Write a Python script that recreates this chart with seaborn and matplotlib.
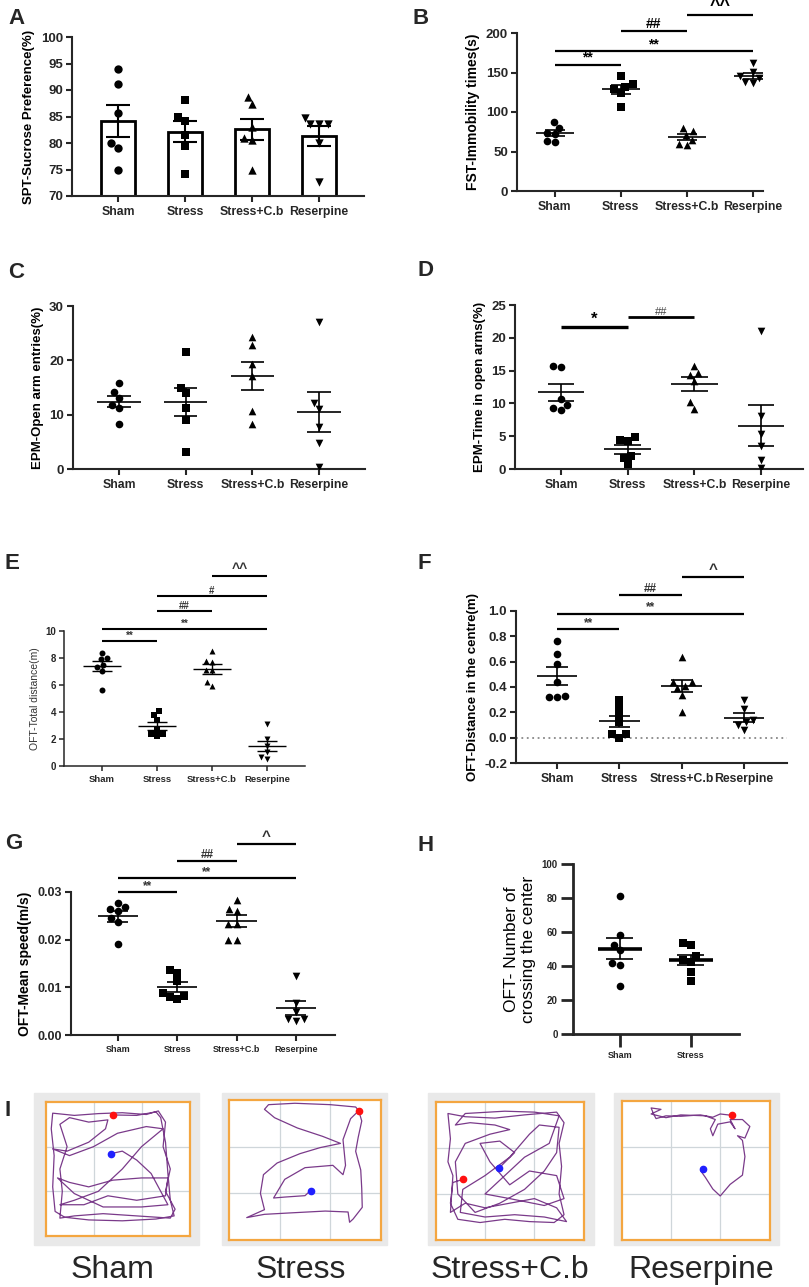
import numpy as np
import pandas as pd
import seaborn as sns
import matplotlib
matplotlib.use("Agg")
from matplotlib import pyplot as plt
from matplotlib.patches import Rectangle

groups4 = ["Sham", "Stress", "Stress+C.b", "Reserpine"]
groups2 = ["Sham", "Stress"]
markers4 = ["o", "s", "^", "v"]

# A - sucrose preference (%)
spt = {
    "Sham": [94.0, 91.2, 85.7, 80.0, 79.0, 75.0],
    "Stress": [88.2, 85.0, 84.2, 81.5, 79.5, 74.2],
    "Stress+C.b": [88.7, 87.3, 83.0, 81.0, 80.5, 75.0],
    "Reserpine": [83.5, 83.5, 83.5, 84.7, 80.0, 72.7],
}
# B - FST immobility (s)
fst = {
    "Sham": [74, 80, 72, 87, 63, 62],
    "Stress": [132, 136, 129, 145, 124, 106],
    "Stress+C.b": [76, 65, 71, 80, 59, 58],
    "Reserpine": [162, 151, 145, 143, 138, 137],
}
fst_sig = [(0, 1, 160, "**"), (0, 3, 177, "**"), (1, 2, 203, "##"), (2, 3, 223, "^^")]
# C - EPM open arm entries (%)
epm_entries = {
    "Sham": [15.8, 14.1, 13.0, 11.8, 11.3, 8.3],
    "Stress": [21.6, 15.0, 13.9, 11.3, 9.1, 3.2],
    "Stress+C.b": [24.3, 22.8, 19.4, 17.2, 10.7, 8.3],
    "Reserpine": [27.0, 12.1, 11.0, 7.8, 4.8, 0.3],
}
# D - EPM time in open arms (%)
epm_time = {
    "Sham": [15.6, 15.7, 10.7, 9.8, 9.3, 9.0],
    "Stress": [4.4, 4.3, 4.9, 2.0, 1.7, 0.7],
    "Stress+C.b": [14.6, 15.7, 14.4, 13.4, 10.2, 9.2],
    "Reserpine": [21.0, 8.1, 5.4, 3.5, 1.4, 0.1],
}
epm_time_sig = [(0, 1, 21.7, "*"), (1, 2, 23.2, "##")]
# E - OFT total distance (m)
oft_dist = {
    "Sham": [8.4, 7.9, 8.0, 7.35, 7.5, 7.05, 5.65],
    "Stress": [4.1, 3.8, 3.4, 2.65, 2.4, 2.35, 2.2],
    "Stress+C.b": [8.5, 7.7, 7.8, 7.1, 7.1, 6.2, 5.9],
    "Reserpine": [3.1, 2.0, 1.5, 1.05, 0.7, 0.55],
}
oft_dist_sig = [(0, 1, 9.26, "**"), (0, 3, 10.15, "**"), (1, 2, 11.5, "##"),
                (1, 3, 12.6, "#"), (2, 3, 14.1, "^^")]
# F - OFT distance in the centre (m)
oft_centre = {
    "Sham": [0.76, 0.66, 0.58, 0.44, 0.33, 0.32, 0.32],
    "Stress": [0.30, 0.24, 0.18, 0.12, 0.03, 0.03, 0.0],
    "Stress+C.b": [0.64, 0.44, 0.44, 0.41, 0.39, 0.34, 0.20],
    "Reserpine": [0.30, 0.23, 0.14, 0.12, 0.10, 0.06],
}
oft_centre_sig = [(0, 1, 0.86, "**"), (0, 3, 0.98, "**"), (1, 2, 1.13, "##"), (2, 3, 1.27, "^")]
# G - OFT mean speed (m/s)
oft_speed = {
    "Sham": [0.0264, 0.0260, 0.0269, 0.0277, 0.0246, 0.0237, 0.0190],
    "Stress": [0.0137, 0.0130, 0.0113, 0.0089, 0.0082, 0.0080, 0.0075],
    "Stress+C.b": [0.0283, 0.0260, 0.0264, 0.0232, 0.0232, 0.0200, 0.0200],
    "Reserpine": [0.0124, 0.0068, 0.0049, 0.0033, 0.0033, 0.0030],
}
oft_speed_sig = [(0, 1, 0.0300, "**"), (0, 3, 0.0329, "**"), (1, 2, 0.0366, "##"), (2, 3, 0.0400, "^")]
# H - OFT number of centre crossings
oft_cross = {
    "Sham": [81.4, 58.2, 52.4, 49.4, 41.6, 40.6, 28.2],
    "Stress": [52.4, 53.3, 45.9, 42.5, 43.5, 36.7, 31.2],
}

# I - track waypoints in arena grid units (3x3 grid, y downwards)
track_sham_x = [1.40, 1.9, 2.3, 2.4, 2.5, 2.55, 2.6, 2.68, 2.3, 1.6, 0.9, 0.4, 0.2, 0.15, 0.18, 0.12,
                0.15, 0.6, 1.1, 1.6, 2.1, 2.35, 2.5, 2.45, 2.6, 2.5, 2.7, 2.6, 1.9, 1.2, 0.6, 0.3,
                0.35, 0.3, 0.45, 0.3, 0.5, 0.9, 1.3, 1.25, 0.9, 0.45, 0.15, 0.5, 1.0, 1.5, 2.1, 2.45,
                2.0, 1.6, 1.1, 0.6, 0.3, 0.8, 1.3, 1.9, 2.5, 2.55, 2.0, 1.4, 0.9, 0.5, 0.25, 0.6,
                1.2, 2.0, 2.55, 2.2, 1.9, 1.6, 1.37]
track_sham_y = [0.29, 0.30, 0.22, 0.35, 0.9, 1.6, 2.2, 2.55, 2.62, 2.66, 2.64, 2.58, 2.45, 1.9, 1.2, 0.6,
                0.25, 0.3, 0.26, 0.24, 0.28, 0.2, 0.45, 1.0, 1.5, 2.0, 2.4, 2.6, 2.55, 2.5, 2.55, 2.6,
                2.0, 1.5, 1.0, 0.5, 0.35, 0.45, 0.4, 0.6, 0.9, 1.1, 1.05, 1.2, 1.0, 0.7, 0.55, 0.6,
                1.0, 1.5, 2.0, 2.2, 2.3, 2.3, 2.1, 2.2, 2.1, 1.7, 1.7, 1.75, 1.9, 1.8, 1.7, 2.05,
                2.35, 2.35, 2.3, 1.6, 1.3, 1.1, 1.155]
track_stress_x = [2.56, 2.62, 2.55, 2.5, 2.6, 2.62, 2.63, 2.45, 2.38, 2.35, 1.9, 1.2, 0.7, 0.35, 0.7,
                  0.62, 0.68, 0.95, 1.4, 1.8, 2.2, 1.85, 1.35, 0.9, 0.7, 0.78, 1.3, 2.0, 2.5, 2.56,
                  2.4, 2.25, 2.3, 2.25, 2.05, 1.5, 1.1, 0.88, 1.1, 1.5, 1.61]
track_stress_y = [0.23, 0.45, 0.8, 1.1, 1.5, 1.9, 2.3, 2.55, 2.62, 2.4, 2.38, 2.42, 2.45, 2.52, 2.35,
                  2.0, 1.6, 1.35, 1.15, 1.02, 0.93, 0.78, 0.6, 0.38, 0.2, 0.1, 0.07, 0.1, 0.15, 0.23,
                  0.4, 0.85, 1.4, 1.6, 1.4, 1.45, 1.7, 2.1, 2.08, 2.05, 1.94]
track_cb_x = [0.56, 0.35, 0.3, 0.45, 0.9, 1.4, 1.9, 2.4, 2.6, 2.5, 2.55, 2.5, 2.6, 2.45, 1.8, 1.2,
              0.6, 0.25, 0.3, 0.25, 0.35, 0.3, 0.6, 1.0, 1.5, 2.0, 2.45, 2.65, 2.2, 1.6, 1.0, 0.5,
              0.55, 1.0, 1.5, 1.9, 2.1, 2.5, 2.45, 2.2, 1.8, 1.3, 0.8, 0.45, 0.4, 0.6, 1.1, 1.5,
              1.2, 0.7, 0.4, 0.6, 1.4, 2.0, 2.5, 2.3, 1.8, 1.4, 1.0, 1.5, 2.2, 2.6, 2.45, 1.9,
              1.5, 1.1, 0.9, 1.3, 1.6, 1.28]
track_cb_y = [1.68, 1.75, 2.2, 2.55, 2.62, 2.55, 2.6, 2.62, 2.45, 2.0, 1.4, 0.9, 0.45, 0.22, 0.28, 0.35,
              0.32, 0.25, 0.8, 1.3, 1.6, 2.4, 2.2, 2.3, 2.2, 2.1, 2.3, 2.6, 2.5, 2.45, 2.5, 2.4,
              1.9, 1.6, 1.2, 0.7, 0.5, 0.55, 1.1, 1.5, 1.9, 2.2, 2.4, 2.0, 1.3, 0.9, 0.7, 0.6,
              0.5, 0.45, 0.5, 0.25, 0.2, 0.22, 0.3, 0.9, 1.2, 1.6, 2.0, 2.1, 2.25, 2.1, 1.6, 1.5,
              1.8, 1.3, 0.9, 0.85, 1.1, 1.44]
track_res_x = [2.24, 2.0, 1.85, 1.6, 1.2, 0.9, 0.7, 0.65, 0.6, 0.8, 0.6, 0.9, 1.2, 1.7, 1.9, 1.8,
               1.85, 1.95, 2.2, 2.3, 2.2, 2.45, 2.6, 2.5, 2.35, 2.45, 2.5, 2.45, 2.2, 2.0, 1.85,
               1.7, 1.6, 1.65]
track_res_y = [0.31, 0.28, 0.35, 0.3, 0.33, 0.32, 0.38, 0.28, 0.15, 0.18, 0.28, 0.36, 0.3, 0.32, 0.4, 0.6,
               0.75, 0.5, 0.45, 0.6, 0.4, 0.4, 0.55, 0.8, 0.75, 0.85, 1.2, 1.6, 1.8, 2.05, 1.9,
               1.65, 1.5, 1.46]
tracks = [("Sham", track_sham_x, track_sham_y), ("Stress", track_stress_x, track_stress_y),
          ("Stress+C.b", track_cb_x, track_cb_y), ("Reserpine", track_res_x, track_res_y)]

W, H = 809, 1287
sns.set_style("ticks")
plt.rcParams["font.family"] = ["Liberation Sans", "DejaVu Sans"]
fig = plt.figure(figsize=(W / 100, H / 100), dpi=100)


def ax_at(l, t, r, b):
    return fig.add_axes([l / W, 1 - b / H, (r - l) / W, (b - t) / H])


def letter(x, y, s):
    fig.text(x / W, 1 - y / H, s, fontsize=16, fontweight="bold", va="top", ha="left")


def dots(ax, data, size, order):
    for i, (name, vals) in enumerate(data.items()):
        sns.swarmplot(x=[name] * len(vals), y=vals, order=order, marker=markers4[i],
                      color="black", size=size, ax=ax, zorder=3)


def mean_sem(ax, data, mean_w, cap_w, lw_mean=1.2, lw_err=1.2, draw_mean=True):
    for i, vals in enumerate(data.values()):
        v = np.asarray(vals, dtype=float)
        m = v.mean()
        s = v.std(ddof=1) / np.sqrt(len(v))
        if draw_mean:
            ax.hlines(m, i - mean_w / 2, i + mean_w / 2, color="black", lw=lw_mean, zorder=4)
        ax.vlines(i, m - s, m + s, color="black", lw=lw_err, zorder=4)
        ax.hlines([m - s, m + s], i - cap_w / 2, i + cap_w / 2, color="black", lw=lw_err, zorder=4)


def sig(ax, pairs, lw=1.5, fs=10, color="black", weight="bold", caret_fs=None):
    for x1, x2, y, label in pairs:
        ax.plot([x1, x2], [y, y], color="black", lw=lw, clip_on=False, solid_capstyle="butt")
        size = caret_fs if (caret_fs and "^" in label) else fs
        ax.text((x1 + x2) / 2, y, label, ha="center", va="bottom", fontsize=size,
                color=color, fontweight=weight, clip_on=False)


def style(ax, xlim, ylim, yticks, ylabel, fs_tick=9.5, fs_label=10, label_weight="bold",
          spine_w=1.5, tick_len=4.5, xfs=8.8, yfmt=None, label_color="black"):
    ax.set_xlim(*xlim)
    ax.set_ylim(*ylim)
    ax.set_yticks(yticks)
    if yfmt:
        ax.set_yticklabels([yfmt.format(t) for t in yticks])
    ax.set_xlabel("")
    ax.set_ylabel(ylabel, fontsize=fs_label, fontweight=label_weight, color=label_color)
    sns.despine(ax=ax)
    ax.spines["left"].set_linewidth(spine_w)
    ax.spines["bottom"].set_linewidth(spine_w)
    ax.tick_params(axis="both", length=tick_len, width=spine_w, labelsize=fs_tick, pad=2)
    ax.tick_params(axis="x", labelsize=xfs, pad=3)
    for lbl in ax.get_xticklabels() + ax.get_yticklabels():
        lbl.set_fontweight("bold")
    ax.set_facecolor("none")


# ---- A
ax = ax_at(72, 37, 364, 196)
spt_df = pd.DataFrame([(g, v) for g in groups4 for v in spt[g]], columns=["group", "value"])
sns.barplot(data=spt_df, x="group", y="value", order=groups4, errorbar=None, color="white",
            edgecolor="black", linewidth=2, width=0.5, saturation=1, ax=ax)
dots(ax, spt, 6, groups4)
mean_sem(ax, spt, 0, 0.36, lw_err=1.5, draw_mean=False)
style(ax, (-0.69, 3.67), (70, 100), [70, 75, 80, 85, 90, 95, 100], "SPT-Sucrose Preference(%)",
      fs_label=9.5)
letter(8, 8, "A")

# ---- B
ax = ax_at(517, 33, 763, 191)
dots(ax, fst, 5.5, groups4)
mean_sem(ax, fst, 0.58, 0.3)
sig(ax, fst_sig, lw=1.6, fs=10, caret_fs=13)
style(ax, (-0.57, 3.15), (0, 200), [0, 50, 100, 150, 200], "FST-Immobility times(s)")
letter(413, 8, "B")

# ---- C
ax = ax_at(73, 306, 365, 469)
dots(ax, epm_entries, 5.5, groups4)
mean_sem(ax, epm_entries, 0.65, 0.35)
style(ax, (-0.69, 3.69), (0, 30), [0, 10, 20, 30], "EPM-Open arm entries(%)", fs_label=9.5)
letter(8, 262, "C")

# ---- D
ax = ax_at(515, 305, 803, 469)
dots(ax, epm_time, 5.5, groups4)
mean_sem(ax, epm_time, 0.7, 0.4)
sig(ax, epm_time_sig[:1], lw=2.4, fs=12)
sig(ax, epm_time_sig[1:], lw=2.0, fs=8, color="#444444", weight="normal")
style(ax, (-0.69, 3.63), (0, 25), [0, 5, 10, 15, 20, 25], "EPM-Time in open arms(%)", fs_label=9.5)
letter(417, 260, "D")

# ---- E
ax = ax_at(64, 631, 305, 766)
dots(ax, oft_dist, 4.3, groups4)
mean_sem(ax, oft_dist, 0.7, 0.35, lw_mean=1.0, lw_err=1.0)
sig(ax, oft_dist_sig, lw=1.5, fs=7, color="#333333", caret_fs=10)
style(ax, (-0.69, 3.69), (0, 10), [0, 2, 4, 6, 8, 10], "OFT-Total distance(m)", fs_tick=7,
      fs_label=7.5, label_weight="normal", spine_w=1.1, tick_len=3.5, xfs=6.8, label_color="#333333")
letter(5, 553, "E")

# ---- F
ax = ax_at(516, 611, 787, 763)
ax.axhline(0, color="#888888", ls=(0, (1, 2)), lw=1.3, zorder=1)
dots(ax, oft_centre, 5.5, groups4)
mean_sem(ax, oft_centre, 0.65, 0.35)
sig(ax, oft_centre_sig, lw=1.6, fs=8.5, color="#333333", caret_fs=11)
style(ax, (-0.66, 3.69), (-0.2, 1.0), [-0.2, 0.0, 0.2, 0.4, 0.6, 0.8, 1.0],
      "OFT-Distance in the centre(m)", fs_label=9.5, yfmt="{:.1f}")
letter(417, 553, "F")

# ---- G
ax = ax_at(71, 892, 335, 1035)
dots(ax, oft_speed, 5.5, groups4)
mean_sem(ax, oft_speed, 0.68, 0.35)
sig(ax, oft_speed_sig, lw=1.6, fs=8.5, color="#333333", caret_fs=11)
style(ax, (-0.79, 3.66), (0, 0.03), [0.0, 0.01, 0.02, 0.03], "OFT-Mean speed(m/s)",
      fs_tick=9, fs_label=10, yfmt="{:.2f}", xfs=6.5)
letter(5, 833, "G")

# ---- H
ax = ax_at(573, 864, 739, 1034)
dots(ax, oft_cross, 5.5, groups2)
mean_sem(ax, oft_cross, 0.62, 0.38, lw_mean=2.6, lw_err=1.2)
style(ax, (-0.66, 1.68), (0, 100), [0, 20, 40, 60, 80, 100], "OFT- Number of\ncrossing the center",
      fs_tick=7, fs_label=12.5, label_weight="normal", spine_w=2.0, tick_len=9, xfs=6.5)
letter(417, 835, "H")

# ---- I
letter(5, 1100, "I")
gray_boxes = [(34, 1093, 199, 1245), (222, 1093, 387, 1245), (428, 1093, 594, 1245), (614, 1093, 779, 1245)]
arena_boxes = [(45.5, 1102, 189.5, 1236), (229, 1100, 381, 1240), (435.6, 1102, 583.8, 1240),
               (621.5, 1101, 769.6, 1240)]
label_x = [112.6, 301, 510, 701.6]
for (name, tx, ty), gb, ab, lx in zip(tracks, gray_boxes, arena_boxes, label_x):
    fig.add_artist(Rectangle((gb[0] / W, 1 - gb[3] / H), (gb[2] - gb[0]) / W, (gb[3] - gb[1]) / H,
                             transform=fig.transFigure, color="#e9e9e9", zorder=0))
    ax = ax_at(*ab)
    ax.set_facecolor("white")
    ax.set_xlim(0, 3)
    ax.set_ylim(3, 0)
    ax.set_xticks([1, 2])
    ax.set_yticks([1, 2])
    ax.grid(True, color="#cfd6da", lw=0.9)
    ax.tick_params(length=0, labelbottom=False, labelleft=False)
    for sp in ax.spines.values():
        sp.set_color("#f4a640")
        sp.set_linewidth(1.6)
    sns.lineplot(x=tx, y=ty, sort=False, estimator=None, color="#7a3a8a", lw=0.9, ax=ax)
    ax.plot(tx[0], ty[0], "o", color="#ff1010", ms=4.5, zorder=5)
    ax.plot(tx[-1], ty[-1], "o", color="#2020ff", ms=4.5, zorder=5)
    ax.set_xlabel("")
    ax.set_ylabel("")
    fig.text(lx / W, 1 - 1270 / H, name, fontsize=23, ha="center", va="center")

fig.savefig("out.png", dpi=100)
